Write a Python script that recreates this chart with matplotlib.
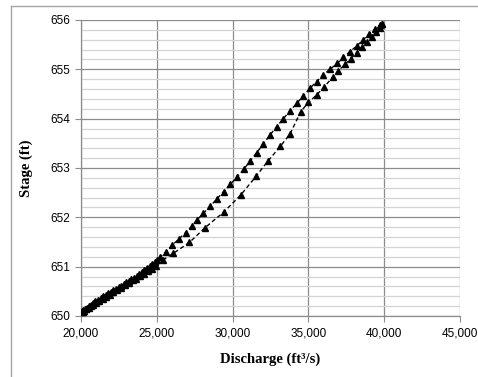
import matplotlib.pyplot as plt
from matplotlib.lines import Line2D
from matplotlib.ticker import MultipleLocator, FuncFormatter

# rising limb (sparse markers, lower/right branch)
rise_q = [20000, 20100, 20220, 20350, 20500, 20650, 20820, 21000, 21200, 21420,
          21650, 21880, 22120, 22370, 22620, 22880, 23140, 23400, 23660, 23920,
          24180, 24440, 24700, 24960, 25430, 26090, 27150, 28180, 29430, 30530,
          31540, 32330, 33150, 33790, 34490, 35000, 35540, 36030, 36600, 36970,
          37410, 37790, 38180, 38510, 38840, 39170, 39460, 39720, 39830]
rise_stage = [650.08, 650.09, 650.11, 650.14, 650.17, 650.20, 650.23, 650.26, 650.30, 650.34,
              650.39, 650.43, 650.48, 650.52, 650.57, 650.62, 650.67, 650.72, 650.76, 650.81,
              650.86, 650.91, 650.96, 651.01, 651.14, 651.27, 651.49, 651.79, 652.11, 652.45,
              652.83, 653.14, 653.44, 653.69, 654.14, 654.33, 654.48, 654.64, 654.84, 654.97,
              655.10, 655.21, 655.34, 655.45, 655.56, 655.66, 655.75, 655.83, 655.92]

# falling limb (dense markers, upper/left branch)
fall_q = [39830, 39720, 39390, 39020, 38620, 38180, 37740, 37300, 36910, 36420,
          35990, 35540, 35110, 34660, 34230, 33790, 33350, 32910, 32470, 32030,
          31590, 31150, 30750, 30300, 29850, 29400, 28950, 28510, 28070, 27650,
          27300, 26900, 26450, 26000, 25600, 25200, 25030, 24860, 24690, 24520,
          24350, 24180, 24010, 23840, 23670, 23500, 23330, 23160, 22990, 22820,
          22650, 22480, 22310, 22140, 21970, 21800, 21630, 21460, 21290, 21120,
          20950, 20800, 20650, 20500, 20380, 20260, 20150, 20060]
fall_stage = [655.92, 655.90, 655.81, 655.72, 655.60, 655.47, 655.36, 655.24, 655.12, 655.00,
              654.89, 654.75, 654.62, 654.46, 654.31, 654.16, 654.00, 653.84, 653.67, 653.49,
              653.31, 653.14, 652.98, 652.82, 652.67, 652.52, 652.37, 652.22, 652.08, 651.95,
              651.82, 651.69, 651.56, 651.43, 651.30, 651.19, 651.14, 651.09, 651.05, 651.01,
              650.97, 650.93, 650.89, 650.85, 650.82, 650.78, 650.74, 650.71, 650.68, 650.64,
              650.61, 650.58, 650.55, 650.52, 650.49, 650.46, 650.43, 650.40, 650.37, 650.33,
              650.30, 650.27, 650.23, 650.20, 650.17, 650.15, 650.13, 650.11]

fig = plt.figure(figsize=(4.78, 3.77), dpi=100)
ax = fig.add_axes([81 / 478, 61 / 377, 379 / 478, 296 / 377])

# outer chart border (top and left only visible)
fig.add_artist(Line2D([11 / 478, 477 / 478], [1 - 6 / 377, 1 - 6 / 377],
                      color="#a6a6a6", lw=1.0, transform=fig.transFigure))
fig.add_artist(Line2D([11 / 478, 11 / 478], [0, 1 - 6 / 377],
                      color="#a6a6a6", lw=1.0, transform=fig.transFigure))

style = dict(color="black", ls=(0, (3, 2)), lw=1.0, marker="^", ms=4.8,
             mfc="black", mec="black", zorder=3)
ax.plot(rise_q, rise_stage, **style)
ax.plot(fall_q, fall_stage, **style)

ax.set_xlim(20000, 45000)
ax.set_ylim(650, 656)
ax.xaxis.set_major_locator(MultipleLocator(5000))
ax.yaxis.set_major_locator(MultipleLocator(1))
ax.yaxis.set_minor_locator(MultipleLocator(0.2))
ax.xaxis.set_major_formatter(FuncFormatter(lambda v, p: f"{v:,.0f}"))

ax.grid(True, which="major", color="#8c8c8c", lw=0.9)
ax.grid(True, which="minor", axis="y", color="#d4d4d4", lw=0.9)
ax.set_axisbelow(True)

for side in ["top", "right"]:
    ax.spines[side].set_visible(False)
for side in ["left", "bottom"]:
    ax.spines[side].set_color("#8c8c8c")
    ax.spines[side].set_linewidth(0.9)

ax.tick_params(which="major", direction="out", length=4, color="#8c8c8c",
               labelsize=8.5, pad=4)
ax.tick_params(which="minor", length=0)
for lbl in ax.get_xticklabels() + ax.get_yticklabels():
    lbl.set_fontfamily("Liberation Sans")

ax.set_xlabel("Discharge (ft³/s)", fontfamily="Liberation Serif",
              fontweight="bold", fontsize=10.5, labelpad=10)
ax.set_ylabel("Stage (ft)", fontfamily="Liberation Serif",
              fontweight="bold", fontsize=10.5, labelpad=12)

fig.savefig("out.png", dpi=100)
